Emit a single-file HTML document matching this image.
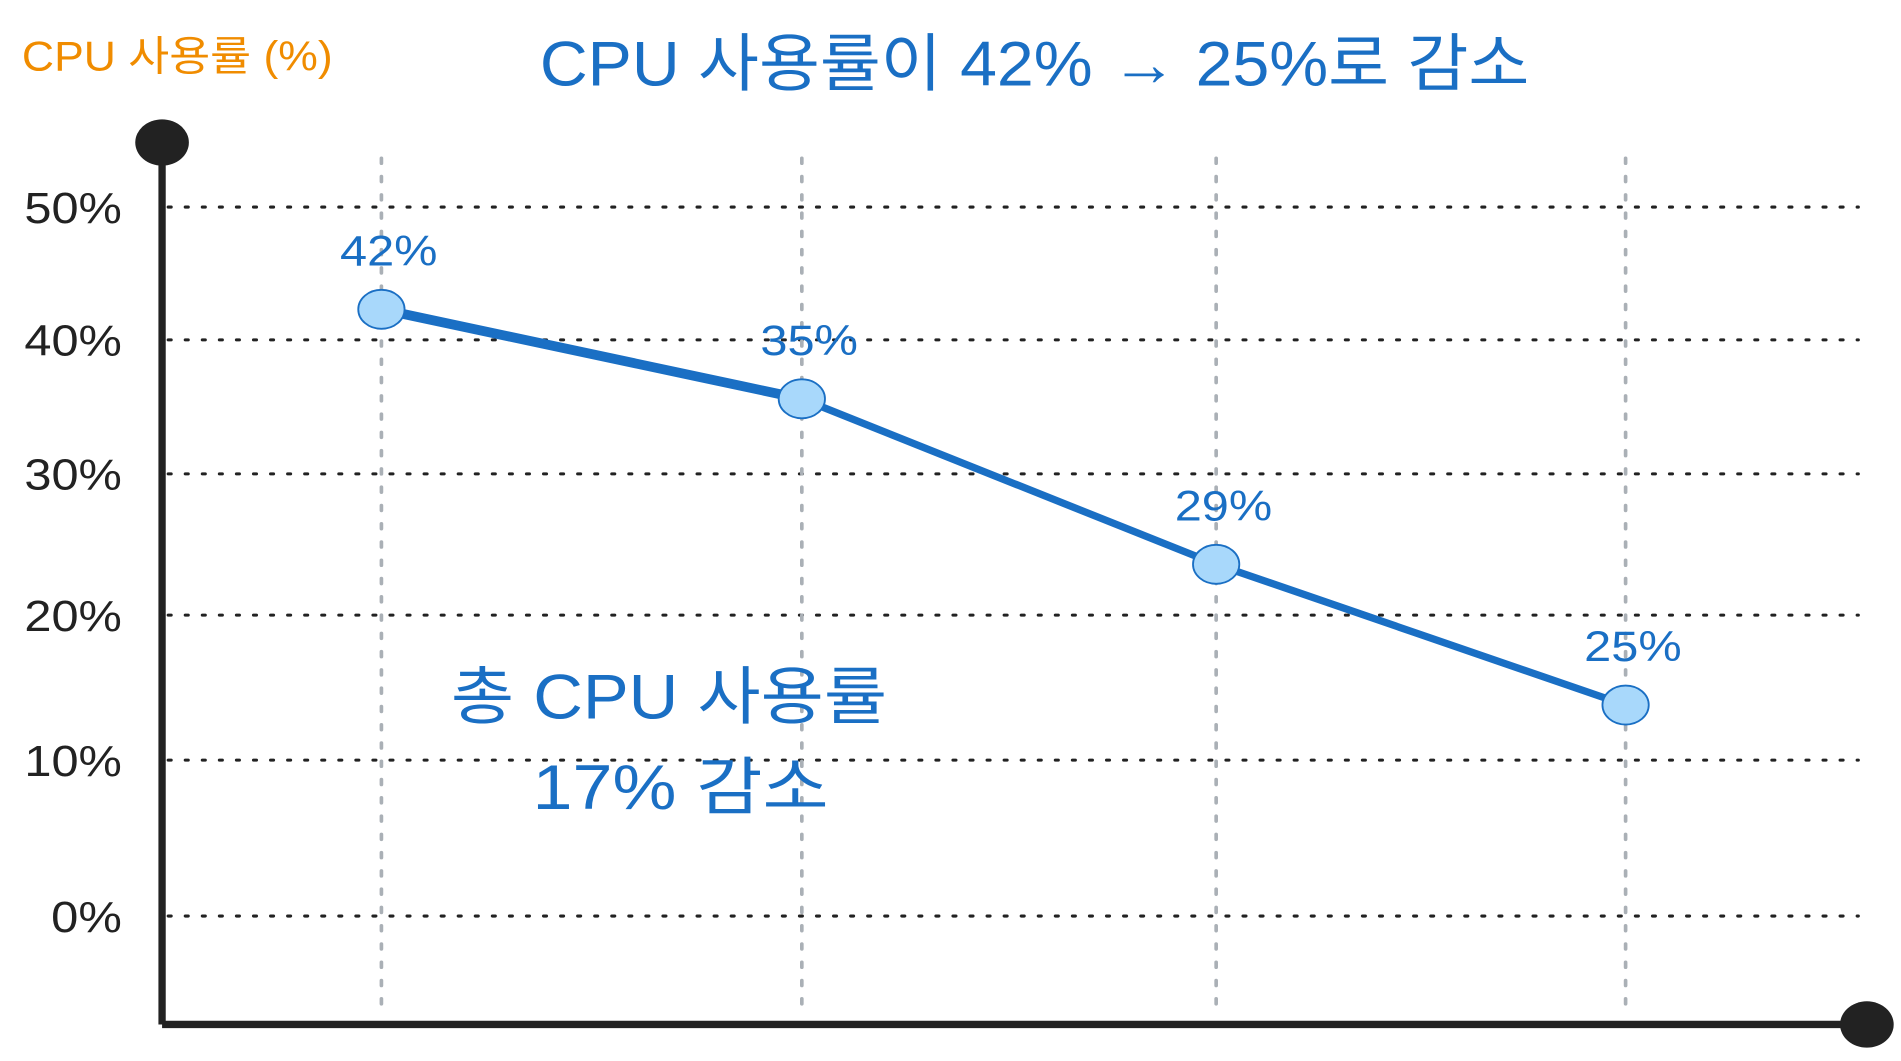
<!DOCTYPE html>
<html><head><meta charset="utf-8"><style>
html,body{margin:0;padding:0;background:#fff;}
svg{display:block;}
text{font-family:"Liberation Sans","Noto Sans CJK KR",sans-serif;}
</style></head><body>
<svg id="chart" width="1901" height="1061" viewBox="0 0 1560 871" preserveAspectRatio="none" xmlns="http://www.w3.org/2000/svg">
<text x="18" y="58" font-size="34" fill="#f08c00" textLength="255" lengthAdjust="spacingAndGlyphs">CPU 사용률 (%)</text>
<text x="443" y="70" font-size="52" fill="#1a6fc4" textLength="812" lengthAdjust="spacingAndGlyphs">CPU 사용률이 42% → 25%로 감소</text>
<g id="grid"></g>
<g id="vgrid"></g>
<g id="series"></g>
<line x1="133" y1="117" x2="133" y2="841" stroke="#222" stroke-width="6"/>
<line x1="133" y1="841" x2="1532" y2="841" stroke="#222" stroke-width="6"/>
<ellipse cx="133" cy="117" rx="22" ry="19" fill="#222"/>
<ellipse cx="1532" cy="841" rx="22" ry="19" fill="#222"/>
<text x="370" y="590" font-size="52" fill="#1a6fc4" textLength="358" lengthAdjust="spacingAndGlyphs">총 CPU 사용률</text>
<text x="437" y="664" font-size="52" fill="#1a6fc4" textLength="243" lengthAdjust="spacingAndGlyphs">17% 감소</text>
</svg>
<script>
const tickValues = [0, 10, 20, 30, 40, 50];
const tickLabels = ["0%", "10%", "20%", "30%", "40%", "50%"];
const categories = ["T1", "T2", "T3", "T4"];
const seriesValues = [42.3, 35.6, 23.6, 13.8];
const valueLabels = ["42%", "35%", "29%", "25%"];

const NS = "http://www.w3.org/2000/svg";
const gridY = [752, 624, 505, 389, 279, 170];
function yScale(v) {
  for (let i = 0; i < tickValues.length - 1; i++) {
    if (v <= tickValues[i + 1] || i === tickValues.length - 2) {
      const t = (v - tickValues[i]) / (tickValues[i + 1] - tickValues[i]);
      return gridY[i] + t * (gridY[i + 1] - gridY[i]);
    }
  }
}
const xPos = [313, 658, 998, 1334];
function xScale(i) { return xPos[i]; }
function mk(tag, attrs, parent) {
  const el = document.createElementNS(NS, tag);
  for (const k in attrs) el.setAttribute(k, attrs[k]);
  parent.appendChild(el);
  return el;
}
const grid = document.getElementById("grid");
tickValues.forEach((v, i) => {
  const y = yScale(v);
  const l = mk("line", {x1: 138, x2: 1525, y1: y, y2: y, stroke: "#222", "stroke-width": 2.5, "stroke-dasharray": "2.5 11.5", "stroke-linecap": "round"}, grid);
  
  
  const w = tickLabels[i].length === 2 ? 58 : 80;
  const t = mk("text", {x: 100 - w, y: y + 13, "font-size": 36, fill: "#222", textLength: w, lengthAdjust: "spacingAndGlyphs"}, grid);
  t.textContent = tickLabels[i];
  
  
});
const vgrid = document.getElementById("vgrid");
categories.forEach((c, i) => {
  const x = xScale(i);
  const l = mk("line", {x1: x, x2: x, y1: 130, y2: 826, stroke: "#aab0b6", "stroke-width": 3, "stroke-dasharray": "4 11", "stroke-linecap": "round"}, vgrid);
  
  
});
const series = document.getElementById("series");
for (let i = 0; i < seriesValues.length - 1; i++) {
  const l = mk("line", {x1: xScale(i), y1: yScale(seriesValues[i]), x2: xScale(i + 1), y2: yScale(seriesValues[i + 1]), stroke: "#1a6fc4", "stroke-width": i === 0 ? 8 : 6, "stroke-linecap": "round"}, series);
  
  
}
seriesValues.forEach((v, i) => {
  const x = xScale(i), y = yScale(v);
  const e = mk("ellipse", {cx: x, cy: y, rx: 19, ry: 16, fill: "#a8d8fb", stroke: "#1a6fc4", "stroke-width": 1.5}, series);
  
  
  const t = mk("text", {x: x - 34, y: y - 36, "font-size": 35, fill: "#1a6fc4", textLength: 80, lengthAdjust: "spacingAndGlyphs"}, series);
  t.textContent = valueLabels[i];
  
  
});
</script>
</body></html>
